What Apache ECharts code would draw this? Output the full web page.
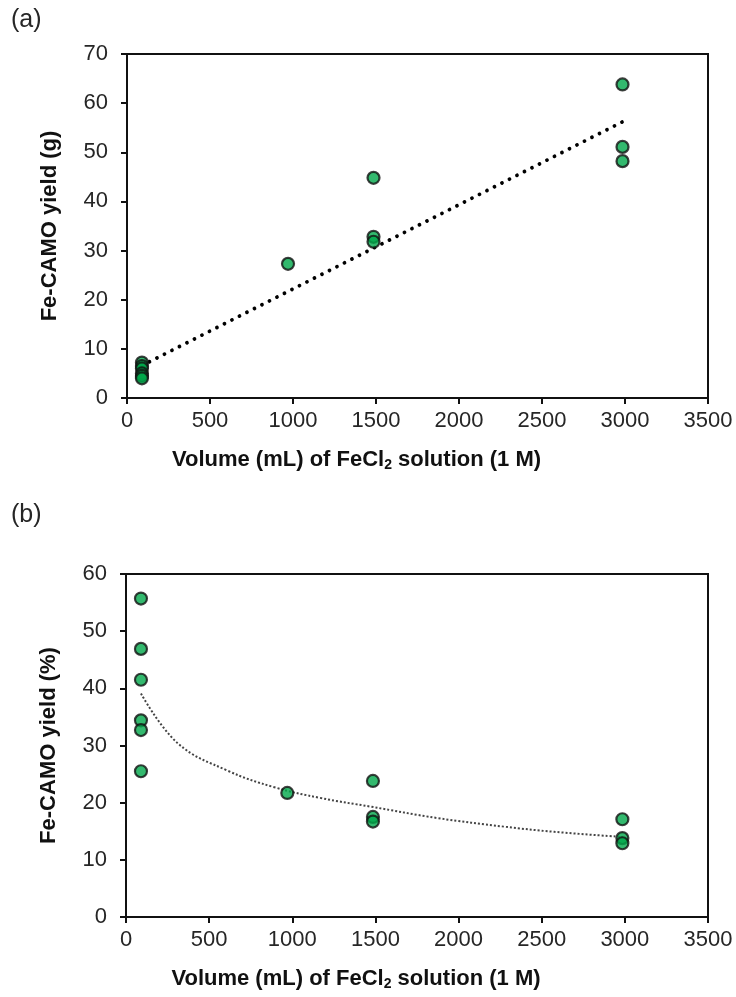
<!DOCTYPE html>
<html>
<head>
<meta charset="utf-8">
<script src="https://cdn.jsdelivr.net/npm/echarts@6/dist/echarts.min.js"></script>
<style>
  html, body { margin: 0; padding: 0; background: #fff; }
  #chart { width: 736px; height: 997px; }
</style>
</head>
<body>
<div id="chart"></div>
<script>
// Panel (a): yield in grams vs. FeCl2 volume
const volumeA = [90, 90, 90, 90, 90, 90, 970, 1485, 1485, 1485, 2985, 2985, 2985];
const yieldGrams = [7.2, 6.5, 6.0, 5.0, 4.5, 4.0, 27.3, 44.8, 32.8, 31.8, 63.8, 51.1, 48.2];
// Linear trend line end points
const trendAX = [90, 2985];
const trendAY = [6.6, 56.2];

// Panel (b): yield in percent vs. FeCl2 volume
const volumeB = [90, 90, 90, 90, 90, 90, 970, 1485, 1485, 1485, 2985, 2985, 2985];
const yieldPercent = [55.7, 46.9, 41.5, 34.4, 32.7, 25.5, 21.7, 23.8, 17.5, 16.7, 17.1, 13.8, 12.9];
// Logarithmic trend curve, sampled along its length
const trendBX = [90, 311, 611, 892, 1173, 1473, 1874, 2275, 2575, 2985];
const trendBY = [39.1, 30.4, 25.6, 22.7, 20.8, 19.3, 17.3, 15.8, 14.9, 14.0];

const xTicks = [0, 3500, 500];   // min, max, interval
const yTicksA = [0, 70, 10];
const yTicksB = [0, 60, 10];

const xName = 'Volume (mL) of FeCl{sub|2} solution (1 M)';
const yNameA = 'Fe-CAMO yield (g)';
const yNameB = 'Fe-CAMO yield (%)';

const FONT = '"Liberation Sans", Arial, sans-serif';
const TEXT = '#262626';
const GREEN = '#00a74a';

const pairs = (xs, ys) => xs.map((x, i) => [x, ys[i]]);

function xAxis(gridIndex) {
  return {
    type: 'value', gridIndex,
    min: xTicks[0], max: xTicks[1], interval: xTicks[2],
    name: xName, nameLocation: 'middle', nameGap: 50,
    nameTextStyle: {
      fontFamily: FONT, fontSize: 22, fontWeight: 'bold', color: '#111',
      padding: [0, 122, 0, 0],
      rich: { sub: { fontFamily: FONT, fontSize: 14, fontWeight: 'bold', color: '#111', verticalAlign: 'bottom', padding: [10, 0, 0, 0] } }
    },
    axisLine: { show: true, onZero: false, lineStyle: { color: '#111', width: 2 } },
    axisTick: { show: true, inside: false, length: 6, lineStyle: { color: '#111', width: 2 } },
    axisLabel: { fontFamily: FONT, fontSize: 22, color: TEXT, margin: 12, formatter: v => String(v) },
    splitLine: { show: false }
  };
}

function yAxis(gridIndex, ticks, name) {
  return {
    type: 'value', gridIndex,
    min: ticks[0], max: ticks[1], interval: ticks[2],
    name, nameLocation: 'middle', nameGap: 66, nameRotate: 90,
    nameTextStyle: { fontFamily: FONT, fontSize: 22, fontWeight: 'bold', color: '#111' },
    axisLine: { show: true, onZero: false, lineStyle: { color: '#111', width: 2 } },
    axisTick: { show: true, inside: false, length: 6, lineStyle: { color: '#111', width: 2 } },
    axisLabel: { fontFamily: FONT, fontSize: 22, color: TEXT, margin: 19, formatter: v => String(v) },
    splitLine: { show: false }
  };
}

const pointStyle = { color: GREEN, borderColor: '#111', borderWidth: 2.2 };

const chart = echarts.init(document.getElementById('chart'), null, { renderer: 'canvas' });
chart.setOption({
  backgroundColor: '#fff',
  animation: false,
  grid: [
    { left: 127, top: 54, width: 581, height: 344, show: true, borderColor: '#111', borderWidth: 2, backgroundColor: 'transparent' },
    { left: 126, top: 574, width: 582, height: 343, show: true, borderColor: '#111', borderWidth: 2, backgroundColor: 'transparent' }
  ],
  graphic: [
    { type: 'text', left: 11, top: 8, style: { text: '(a)', font: '25px "Liberation Sans", Arial, sans-serif', fill: TEXT } },
    { type: 'text', left: 11, top: 503, style: { text: '(b)', font: '25px "Liberation Sans", Arial, sans-serif', fill: TEXT } }
  ],
  xAxis: [xAxis(0), xAxis(1)],
  yAxis: [yAxis(0, yTicksA, yNameA), yAxis(1, yTicksB, yNameB)],
  series: [
    {
      type: 'line', xAxisIndex: 0, yAxisIndex: 0, data: pairs(trendAX, trendAY),
      symbol: 'none', silent: true, z: 2,
      lineStyle: { color: '#000', width: 3.8, type: [0.01, 8.4], cap: 'round' }
    },
    {
      type: 'scatter', xAxisIndex: 0, yAxisIndex: 0, data: pairs(volumeA, yieldGrams),
      symbol: 'circle', symbolSize: 12, itemStyle: pointStyle, z: 3
    },
    {
      type: 'line', xAxisIndex: 1, yAxisIndex: 1, data: pairs(trendBX, trendBY),
      symbol: 'none', silent: true, smooth: 0.4, z: 2,
      lineStyle: { color: '#444', width: 2, type: [2, 2] }
    },
    {
      type: 'scatter', xAxisIndex: 1, yAxisIndex: 1, data: pairs(volumeB, yieldPercent),
      symbol: 'circle', symbolSize: 12, itemStyle: pointStyle, z: 3
    }
  ]
});
</script>
</body>
</html>
